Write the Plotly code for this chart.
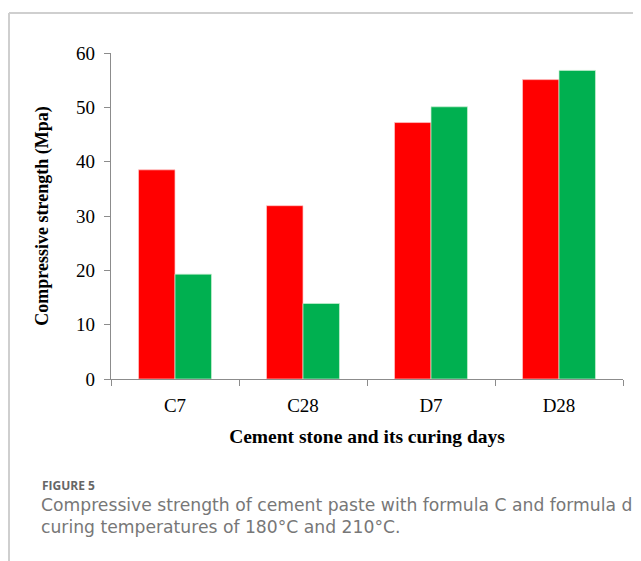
import plotly.graph_objects as go

categories = ["C7", "C28", "D7", "D28"]
series_180 = [38.5, 31.9, 47.2, 55.1]
series_210 = [19.3, 13.9, 50.1, 56.8]
y_ticks = [0, 10, 20, 30, 40, 50, 60]

OFF = 8  # default body margin of the html page
W, H = 641 - OFF, 561 - OFF
# plot area in page pixels
L, R, T, B = 111, 623, 53, 379

def px(x):
    return (x - L) / (R - L)

def py(y):
    return (B - y) / (B - T)

fig = go.Figure()
fig.add_trace(go.Bar(x=categories, y=series_180, name="180°C",
                     marker=dict(color="#FF0000", line=dict(color="rgba(255,200,200,0.9)", width=0.8))))
fig.add_trace(go.Bar(x=categories, y=series_210, name="210°C",
                     marker=dict(color="#00B050", line=dict(color="rgba(200,240,210,0.9)", width=0.8))))

serif = "Liberation Serif, Times New Roman, serif"
fig.update_layout(
    width=W, height=H, autosize=False,
    margin=dict(l=L - OFF, r=W - (R - OFF), t=T - OFF, b=H - (B - OFF), pad=0),
    paper_bgcolor="white", plot_bgcolor="white",
    barmode="group", bargap=0.43, bargroupgap=0,
    showlegend=False,
    font=dict(family=serif, color="black"),
)
fig.update_xaxes(
    showline=True, linecolor="#8c8c8c", linewidth=1.3,
    ticks="outside", tickson="boundaries", ticklen=6, tickcolor="#8c8c8c", tickwidth=1.3,
    ticklabelstandoff=9,
    tickfont=dict(family=serif, size=19, color="black"),
    title=dict(text="<b>Cement stone and its curing days</b>", font=dict(family=serif, size=19.5, color="black"), standoff=14),
    showgrid=False,
)
fig.update_yaxes(
    range=[0, 60], tickvals=y_ticks,
    showline=True, linecolor="#8c8c8c", linewidth=1.3,
    ticks="outside", ticklen=6, tickcolor="#8c8c8c", tickwidth=1.3,
    ticklabelstandoff=5,
    tickfont=dict(family=serif, size=19, color="black"),
    title=dict(text="<b>Compressive strength (Mpa)</b>", font=dict(family=serif, size=18, color="black"), standoff=22),
    showgrid=False, zeroline=False,
)

# frame lines (left and top), page coords x=9, y=13
fig.add_shape(type="line", xref="paper", yref="paper", x0=px(9), x1=px(9), y0=py(13), y1=py(H + OFF + 5),
              line=dict(color="#cfcfcf", width=2), layer="above")
fig.add_shape(type="line", xref="paper", yref="paper", x0=px(9), x1=px(W + OFF + 5), y0=py(13), y1=py(13),
              line=dict(color="#cfcfcf", width=2), layer="above")

cap_font = "DejaVu Sans, Open Sans, sans-serif"
fig.add_annotation(text="<b>FIGURE 5</b>", xref="paper", yref="paper", x=px(40), y=py(475),
                   xanchor="left", yanchor="top", showarrow=False,
                   font=dict(family="Open Sans, sans-serif", size=12, color="#666666"))
fig.add_annotation(text="Compressive strength of cement paste with formula C and formula d",
                   xref="paper", yref="paper", x=px(39), y=py(493),
                   xanchor="left", yanchor="top", showarrow=False,
                   font=dict(family=cap_font, size=17.2, color="#777777"))
fig.add_annotation(text="curing temperatures of 180°C and 210°C.",
                   xref="paper", yref="paper", x=px(39), y=py(515),
                   xanchor="left", yanchor="top", showarrow=False,
                   font=dict(family=cap_font, size=17.2, color="#777777"))

fig.write_html("out.html")
